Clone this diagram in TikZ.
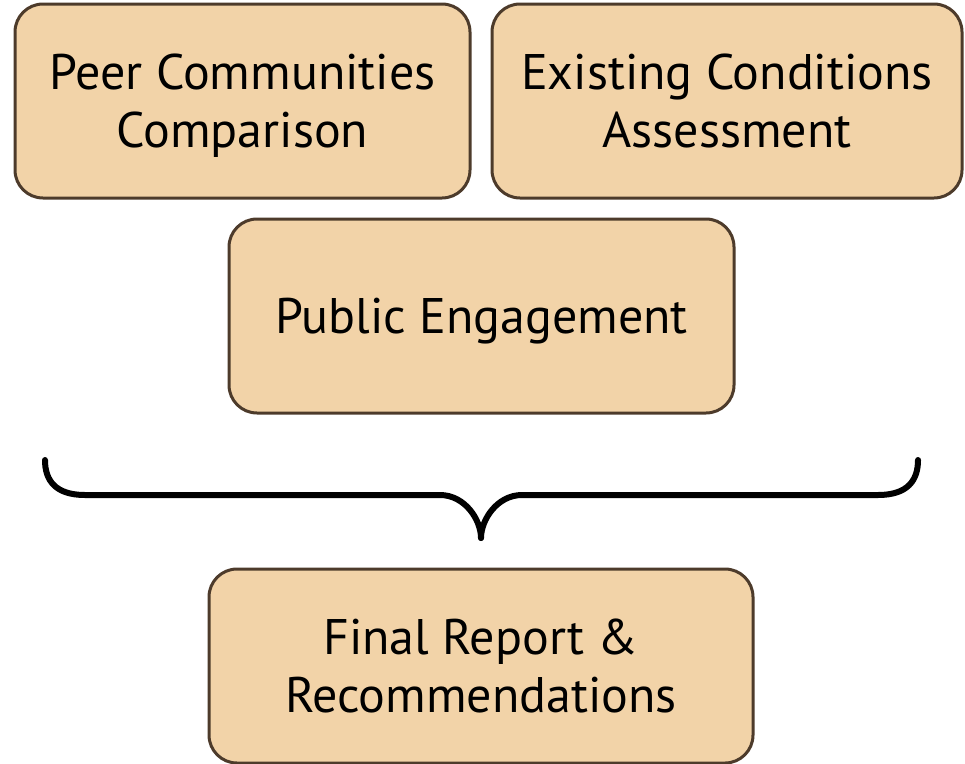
\documentclass[tikz,border=0pt]{standalone}
\usepackage{fontspec}
\setmainfont{PT Sans}
\definecolor{boxfill}{HTML}{F2D3A8}
\definecolor{boxline}{HTML}{4D3B2B}
\newcommand\tstrut{\rule[-17.4pt]{0pt}{70pt}}
\begin{document}
\begin{tikzpicture}[x=1pt,y=-1pt,
  stage/.style={draw=boxline, fill=boxfill, line width=3pt, rounded corners=28pt,
    align=center, font=\fontsize{50}{58}\selectfont, inner sep=0pt},
  brace/.style={line width=6pt, line cap=round, line join=round}]
\useasboundingbox (0,0) rectangle (965,763);
\node[stage, minimum width=455pt, minimum height=194pt] (peer) at (242.5,101) {\tstrut Peer Communities\\\strut Comparison};
\node[stage, minimum width=470pt, minimum height=194pt] (exist) at (727,101) {\tstrut Existing Conditions\\\strut Assessment};
\node[stage, minimum width=505pt, minimum height=194pt] (pub) at (481.5,316) {\tstrut Public Engagement};
\node[stage, minimum width=544pt, minimum height=194pt] (fin) at (481,666) {\tstrut Final Report \&\\\strut Recommendations};
\coordinate (bl) at (45,460);
\coordinate (br) at (918,460);
\coordinate (tip) at (481,538);
\draw[brace] (bl) .. controls (45,480) and (55,495) .. (85,495) -- (440,495)
  .. controls (465,495) and (481,520) .. (tip);
\draw[brace] (br) .. controls (918,480) and (908,495) .. (878,495) -- (522,495)
  .. controls (497,495) and (481,520) .. (tip);
\end{tikzpicture}
\end{document}
